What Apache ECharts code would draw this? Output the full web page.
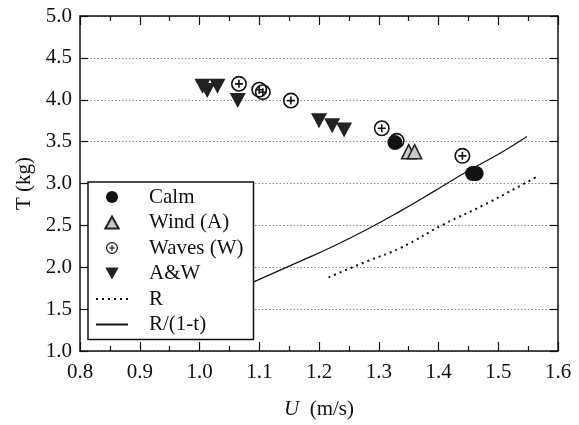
<!DOCTYPE html>
<html>
<head>
<meta charset="utf-8">
<script src="https://cdn.jsdelivr.net/npm/echarts@6/dist/echarts.min.js"></script>
<style>
    html, body { margin: 0; padding: 0; background: #fff; }
    #chart { width: 579px; height: 425px; }
</style>
</head>
<body>
<div id="chart"></div>
<script>
// measured points, [U (m/s), T (kg)]
var calmData = [[1.327, 3.49], [1.457, 3.12], [1.463, 3.12]];
var windData = [[1.350, 3.38], [1.360, 3.38]];
var wavesData = [[1.066, 4.19], [1.100, 4.12], [1.106, 4.09], [1.153, 3.99],
    [1.305, 3.66], [1.330, 3.51], [1.440, 3.33]];
var awData = [[1.005, 4.16], [1.013, 4.11], [1.030, 4.16], [1.064, 3.99],
    [1.200, 3.75], [1.222, 3.69], [1.242, 3.64]];
// curves
var rLine = [[1.216, 1.88], [1.280, 2.07], [1.336, 2.23], [1.408, 2.51],
    [1.475, 2.74], [1.567, 3.09]];
var rtLine = [[1.070, 1.76], [1.168, 2.07], [1.224, 2.25], [1.280, 2.45],
    [1.336, 2.67], [1.391, 2.90], [1.447, 3.14], [1.503, 3.36], [1.548, 3.56]];
var seriesNames = ['Calm', 'Wind (A)', 'Waves (W)', 'A&W', 'R', 'R/(1-t)'];

(function () {
    "use strict";

    var FONT = 'Liberation Serif',
        //circle with a plus inside
        CIRCLE_PLUS = 'path://M0,-10 A10,10 0 1,1 0,10 A10,10 0 1,1 0,-10 Z ' +
            'M0,-8 A8,8 0 1,0 0,8 A8,8 0 1,0 0,-8 Z ' +
            'M-5,-1 L5,-1 L5,1 L-5,1 Z M-1,-5 L1,-5 L1,5 L-1,5 Z',
        UP_TRI = 'path://M0,-10 L10,8 L-10,8 Z',
        DOWN_TRI = 'path://M-10,-8 L10,-8 L0,10 Z',
        fmt = function (v) { return v.toFixed(1); },
        myChart = echarts.init(document.getElementById('chart')),
        axisLine = {show: true, onZero: false, lineStyle: {color: '#111', width: 1.5}},
        xCommon, yCommon, option;

    xCommon = {
        type: 'value', min: 0.8, max: 1.6, interval: 0.1,
        axisLine: axisLine,
        axisTick: {show: true, inside: true, length: 9, lineStyle: {color: '#111', width: 1.2}},
        minorTick: {show: true, splitNumber: 2, length: 5, lineStyle: {color: '#111', width: 1.2}},
        splitLine: {show: false}
    };
    yCommon = {
        type: 'value', min: 1, max: 5, interval: 0.5,
        axisLine: axisLine,
        axisTick: {show: true, inside: true, length: 8, lineStyle: {color: '#111', width: 1.2}}
    };

    option = {
        backgroundColor: '#fff',
        animation: false,
        grid: {left: 80, right: 21, top: 16, bottom: 71},
        legend: {
            data: seriesNames,
            orient: 'vertical',
            left: 88, top: 182,
            padding: [4.5, 10, 4.5, 7],
            itemGap: 4.5,
            itemWidth: 32, itemHeight: 12,
            backgroundColor: '#fff',
            borderColor: '#111', borderWidth: 1.5, borderRadius: 0,
            textStyle: {fontFamily: FONT, fontSize: 21, color: '#111', lineHeight: 21, padding: [0, 0, 0, 16]}
        },
        xAxis: [
            echarts.util.merge({
                position: 'bottom',
                name: '{i|U}  (m/s)',
                nameLocation: 'middle', nameGap: 48,
                nameTextStyle: {
                    fontFamily: FONT, fontSize: 21, color: '#111',
                    rich: {i: {fontFamily: FONT, fontSize: 21, fontStyle: 'italic', color: '#111'}}
                },
                axisLabel: {formatter: fmt, fontFamily: FONT, fontSize: 21, color: '#111', margin: 11}
            }, xCommon),
            echarts.util.merge({position: 'top', axisLabel: {show: false}}, xCommon)
        ],
        yAxis: [
            echarts.util.merge({
                position: 'left',
                name: 'T (kg)',
                nameLocation: 'middle', nameGap: 44,
                nameTextStyle: {fontFamily: FONT, fontSize: 21, color: '#111'},
                axisLabel: {formatter: fmt, fontFamily: FONT, fontSize: 21, color: '#111', margin: 8},
                splitLine: {show: true, lineStyle: {color: '#888', type: [1.5, 2], width: 1}}
            }, yCommon),
            echarts.util.merge({position: 'right', axisLabel: {show: false}, splitLine: {show: false}}, yCommon)
        ],
        series: [
            {
                name: 'Calm', type: 'scatter', data: calmData,
                symbol: 'circle', symbolSize: 15,
                itemStyle: {color: '#111', opacity: 1}, z: 5
            },
            {
                name: 'Wind (A)', type: 'scatter', data: windData,
                symbol: UP_TRI, symbolSize: 14,
                itemStyle: {color: '#c8c8c8', borderColor: '#222', borderWidth: 1.6, opacity: 1}
            },
            {
                name: 'Waves (W)', type: 'scatter', data: wavesData,
                symbol: CIRCLE_PLUS, symbolSize: 16,
                itemStyle: {color: '#111', opacity: 1}
            },
            {
                name: 'A&W', type: 'scatter', data: awData,
                symbol: DOWN_TRI, symbolSize: [16, 15],
                itemStyle: {color: '#222', opacity: 1}
            },
            {
                name: 'R', type: 'line', data: rLine,
                symbol: 'none', smooth: true,
                lineStyle: {color: '#111', width: 2, type: [2, 4]},
                itemStyle: {color: 'rgba(0,0,0,0)'}
            },
            {
                name: 'R/(1-t)', type: 'line', data: rtLine,
                symbol: 'none', smooth: true,
                lineStyle: {color: '#111', width: 1.2},
                itemStyle: {color: 'rgba(0,0,0,0)'}
            }
        ]
    };

    myChart.setOption(option);
})();
</script>
</body>
</html>
